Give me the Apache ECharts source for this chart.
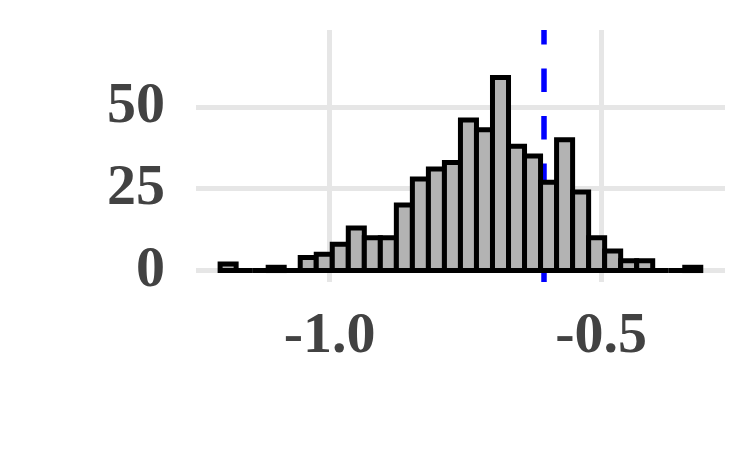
<!DOCTYPE html>
<html>
<head>
<meta charset="utf-8">
<script src="https://cdn.jsdelivr.net/npm/echarts@6/dist/echarts.min.js"></script>
<style>
html,body{margin:0;padding:0;background:#fff;}
#chart{width:755px;height:472px;}
</style>
</head>
<body>
<div id="chart"></div>
<script>
// Histogram data (30 bins)
const binStart = -1.2016;
const binWidth = 0.0295;
const counts = [2,0,0,1,0,4,5,8,13,10,10,20,28,31,33,46,43,59,38,35,27,40,24,10,6,3,3,0,0,1];
const xTicks = [-1.0, -0.5];
const xTickLabels = ['-1.0', '-0.5'];
const yTicks = [0, 25, 50];
const yTickLabels = ['0', '25', '50'];
const refLine = -0.6056;
const xMin = -1.246, xMax = -0.272;
const yMin = -3.5, yMax = 73.5;

const bins = counts.map((c, i) => [binStart + i * binWidth, binStart + (i + 1) * binWidth, c]);

const labelFont = {
  fontFamily: 'Liberation Serif',
  fontWeight: 'bold',
  fontSize: 58,
  color: '#424242'
};

const chart = echarts.init(document.getElementById('chart'), null, {renderer: 'canvas'});
chart.setOption({
  animation: false,
  backgroundColor: '#ffffff',
  grid: {left: 196, right: 30, top: 30, bottom: 190, containLabel: false},
  xAxis: {
    type: 'value', min: xMin, max: xMax,
    axisLine: {show: false}, axisTick: {show: false}, splitLine: {show: false},
    axisLabel: Object.assign({
      customValues: xTicks,
      margin: 26,
      formatter: v => xTickLabels[xTicks.findIndex(t => Math.abs(t - v) < 1e-9)] ?? ''
    }, labelFont)
  },
  yAxis: {
    type: 'value', min: yMin, max: yMax,
    axisLine: {show: false}, axisTick: {show: false}, splitLine: {show: false},
    axisLabel: Object.assign({
      customValues: yTicks,
      margin: 31,
      formatter: v => yTickLabels[yTicks.findIndex(t => Math.abs(t - v) < 1e-9)] ?? ''
    }, labelFont)
  },
  series: [
    {
      type: 'line', data: [], z: 1, silent: true,
      markLine: {
        silent: true, symbol: 'none', label: {show: false},
        lineStyle: {color: '#e6e6e6', width: 5, type: 'solid'},
        data: xTicks.map(v => ({xAxis: v})).concat(yTicks.map(v => ({yAxis: v})))
      }
    },
    {
      type: 'custom', z: 5, silent: true, clip: false,
      data: bins,
      renderItem: function (params, api) {
        const p0 = api.coord([api.value(0), 0]);
        const p1 = api.coord([api.value(1), api.value(2)]);
        return {
          type: 'rect',
          shape: {x: p0[0], y: p1[1], width: p1[0] - p0[0], height: p0[1] - p1[1]},
          style: {fill: '#b3b3b3', stroke: '#000000', lineWidth: 5}
        };
      }
    },
    {
      type: 'line', data: [], z: 10, silent: true,
      markLine: {
        silent: true, symbol: 'none', label: {show: false},
        lineStyle: {color: '#0000ff', width: 5.5, type: [23.5, 24]},
        data: [[{coord: [refLine, yMin]}, {coord: [refLine, yMax]}]]
      }
    }
  ]
});
</script>
</body>
</html>
